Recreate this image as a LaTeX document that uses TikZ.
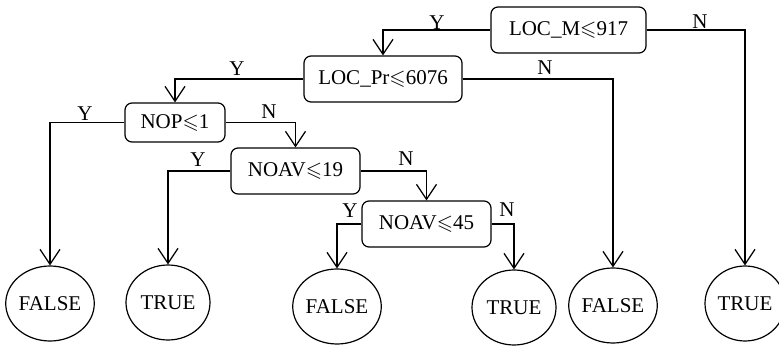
\documentclass[tikz,border=0pt]{standalone}
\usepackage{amssymb}
\usepackage{fontspec}
\setmainfont{Liberation Serif}
\usetikzlibrary{arrows.meta,shapes.geometric}
\begin{document}
\begin{tikzpicture}[x=1pt,y=-1pt,
  font=\fontsize{21}{25}\selectfont,
  line width=1.2pt,
  test/.style={draw,rounded corners=7pt,inner sep=0pt},
  leaf/.style={draw,ellipse,inner sep=0pt,minimum width=84pt,minimum height=75pt},
  conn/.style={-{Straight Barb[length=15pt,width=20pt,line width=1.2pt]},line width=1.2pt},
  lab/.style={inner sep=0pt,anchor=base}]
\useasboundingbox (0,0) rectangle (779,347);
% tests
\node[test,minimum width=155pt,minimum height=46pt] (locm) at (568.5,30) {LOC\_M$\leqslant$917};
\node[test,minimum width=158pt,minimum height=46pt] (locpr) at (383,79) {LOC\_Pr$\leqslant$6076};
\node[test,minimum width=100pt,minimum height=39pt] (nop) at (175,122.5) {NOP$\leqslant$1};
\node[test,minimum width=129pt,minimum height=46pt] (noav19) at (295.5,171) {NOAV$\leqslant$19};
\node[test,minimum width=129pt,minimum height=46pt] (noav45) at (426.5,224) {NOAV$\leqslant$45};
% leaves
\node[leaf] (f1) at (50,303.5) {FALSE};
\node[leaf] (t2) at (168,302.5) {TRUE};
\node[leaf] (f3) at (337,306.5) {FALSE};
\node[leaf] (t4) at (514,307.5) {TRUE};
\node[leaf] (f5) at (613,305.5) {FALSE};
\node[leaf,minimum width=80pt] (t6) at (745,303.5) {TRUE};
% connectors
\draw[conn] (locm.west) -| (locpr.north);
\draw[conn] (locm.east) -| (t6.north);
\draw[conn] (locpr.west) -| (nop.north);
\draw[conn] (locpr.east) -| (f5.north);
\draw[conn] (nop.west) -| (f1.north);
\draw[conn] (nop.east) -| (noav19.north);
\draw[conn] (noav19.west) -| (t2.north);
\draw[conn] (noav19.east) -| (noav45.north);
\draw[conn] (noav45.west) -| (f3.north);
\draw[conn] (noav45.east) -| (t4.north);
% labels
\node[lab] (y1) at (437,30) {Y};
\node[lab] (n1) at (700,29) {N};
\node[lab] (y2) at (237,76) {Y};
\node[lab] (n2) at (545,75) {N};
\node[lab] (y3) at (85,121) {Y};
\node[lab] (n3) at (269,119) {N};
\node[lab] (y4) at (198,167) {Y};
\node[lab] (n4) at (406,166) {N};
\node[lab] (y5) at (350,218) {Y};
\node[lab] (n5) at (507,217) {N};
\end{tikzpicture}
\end{document}
